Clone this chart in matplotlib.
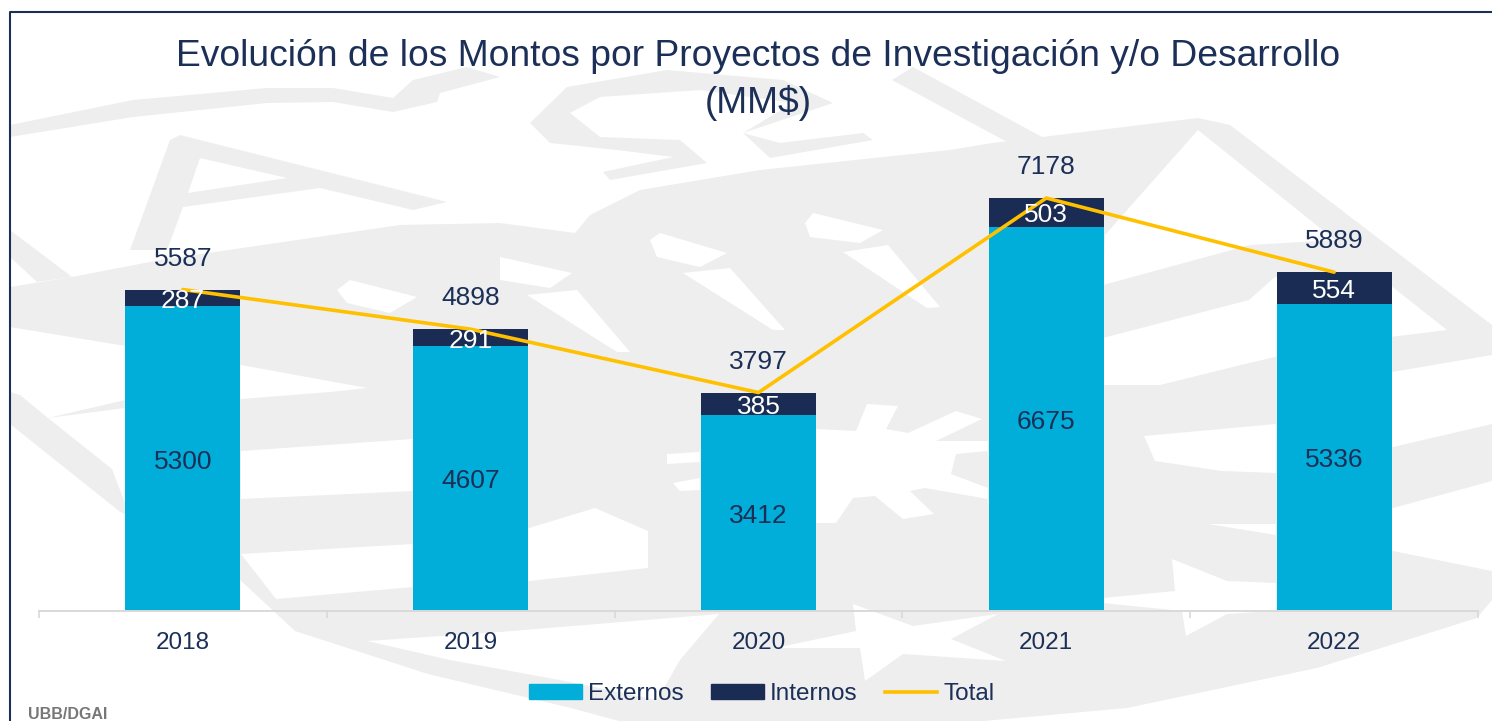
import matplotlib
matplotlib.use("Agg")
import matplotlib.pyplot as plt
from matplotlib.patches import Polygon, Patch
from matplotlib.lines import Line2D

plt.rcParams['font.family'] = ['Liberation Sans', 'DejaVu Sans']

years = ["2018", "2019", "2020", "2021", "2022"]
externos = [5300, 4607, 3412, 6675, 5336]
internos = [287, 291, 385, 503, 554]
total = [5587, 4898, 3797, 7178, 5889]

NAVY = "#1b2f57"
CYAN = "#00aed9"
DARK = "#1a2c54"
GOLD = "#ffc000"
LOGO = "#eeeeee"
W, H = 1492, 721

# faint shield logo behind the chart, in image pixels
logo_gray = [
    # top left band
    [(10, 125), (133, 100), (267, 88), (333, 88), (393, 98), (413, 80), (467, 67), (500, 77), (440, 93), (437, 102), (393, 112), (333, 102), (267, 103), (133, 117), (10, 137)],
    # letter
    [(170, 140), (180, 135), (447, 202), (413, 210), (320, 188), (183, 207), (167, 250), (130, 250)],
    # arm on the left
    [(10, 230), (72, 277), (37, 282), (10, 257)],
    # curl under the title
    [(530, 123), (567, 87), (667, 70), (783, 80), (833, 103), (743, 133), (793, 103), (700, 90), (600, 97), (570, 113), (600, 137), (680, 140), (707, 163), (610, 180), (603, 172), (673, 157), (617, 150), (550, 143)],
    [(743, 133), (770, 158), (873, 140), (863, 133), (780, 143)],
    [(913, 67), (1042, 137), (1009, 143), (892, 80)],
    # main body
    [(10, 287), (72, 277), (160, 260), (400, 225), (500, 223), (575, 233), (590, 215), (640, 190), (760, 170), (950, 150), (992, 143), (1042, 137),
     (1198, 118), (1230, 125), (1492, 325), (1492, 600), (1477, 618), (1317, 668), (1127, 708), (984, 721), (619, 721), (571, 708), (428, 674),
     (295, 631), (238, 578), (119, 511), (10, 424)],
]
logo_white = [
    [(200, 158), (188, 193), (287, 178)],
    # under the arm
    [(10, 327), (241, 365), (367, 388), (330, 392), (241, 399), (125, 400), (48, 418), (20, 395), (10, 392)],
    [(48, 418), (125, 408), (125, 503), (112, 469)],
    # drops and wedges
    [(337, 290), (350, 280), (417, 297), (390, 313), (347, 303)],
    [(500, 257), (572, 273), (550, 288), (500, 280)],
    [(527, 295), (577, 290), (630, 352), (617, 352)],
    [(650, 240), (660, 233), (727, 253), (700, 267), (657, 257)],
    [(683, 273), (730, 268), (785, 330), (773, 330)],
    [(805, 223), (813, 213), (883, 230), (860, 243), (810, 237)],
    [(843, 252), (888, 245), (940, 307), (927, 308)],
    # stripes
    [(241, 451), (413, 439), (413, 491), (241, 499)],
    [(241, 554), (413, 544), (529, 528), (595, 508), (648, 531), (648, 568), (529, 581), (413, 587), (276, 599)],
    [(667, 454), (700, 452), (700, 462), (667, 464)],
    [(673, 483), (700, 478), (700, 490), (680, 491)],
    [(367, 641), (500, 632), (719, 614), (680, 660), (657, 700), (560, 680), (450, 660)],
    # inside the right triangle
    [(1198, 130), (1335, 240), (1250, 245), (1103, 285), (1105, 235)],
    [(1103, 338), (1249, 300), (1275, 277), (1390, 285), (1447, 330), (1390, 337), (1275, 357), (1249, 363), (1160, 385), (1103, 385)],
    [(1144, 436), (1276, 424), (1276, 473), (1222, 471), (1155, 461)],
    [(1392, 372), (1492, 355), (1492, 424), (1393, 447), (1350, 440), (1350, 385)],
    [(1393, 508), (1492, 481), (1492, 571), (1393, 551), (1330, 520)],
    [(1208, 524), (1276, 524), (1276, 535)],
    # stars
    [(816, 429), (856, 431), (867, 404), (898, 406), (886, 429), (908, 433), (956, 411), (982, 419), (936, 441), (988, 441), (988, 451), (956, 454), (951, 474), (988, 488), (988, 499), (925, 488), (910, 491), (934, 514), (903, 519), (875, 496), (853, 498), (836, 523), (816, 523)],
    [(853, 604), (913, 626), (998, 614), (951, 639), (1006, 661), (903, 654), (865, 681), (860, 648), (775, 648), (856, 631)],
    [(1172, 559), (1227, 581), (1276, 583), (1276, 611), (1227, 614), (1186, 636), (1182, 611), (1103, 603), (1103, 598), (1175, 591)],
]

fig = plt.figure(figsize=(W / 100, H / 100), dpi=100)

for shapes, col, z in [(logo_gray, LOGO, -6), (logo_white, "white", -5)]:
    for shape in shapes:
        pts = [(x / W, 1 - y / H) for x, y in shape]
        fig.add_artist(Polygon(pts, closed=True, transform=fig.transFigure,
                               facecolor=col, edgecolor="none", zorder=z))

# frame on left and top of the slide
fig.add_artist(Line2D([10 / W, 10 / W, 1], [0, 1 - 12 / H, 1 - 12 / H],
                      color=NAVY, lw=1.5, transform=fig.transFigure))

ax = fig.add_axes([39 / W, 1 - 611 / H, (1478 - 39) / W, (611 - 150) / H])
ax.patch.set_alpha(0)

x = list(range(len(years)))
ax.bar(x, externos, width=0.4, color=CYAN, zorder=2)
ax.bar(x, internos, width=0.4, bottom=externos, color=DARK, zorder=2)
ax.plot(x, total, color=GOLD, lw=2.6, zorder=3, solid_capstyle="round")

for i in x:
    ax.annotate(str(externos[i]), (i, externos[i] / 2), xytext=(0, -3), textcoords="offset pixels",
                ha="center", va="center", fontsize=19, color=NAVY, zorder=4)
    ax.annotate(str(internos[i]), (i, externos[i] + internos[i] / 2), xytext=(0, -3), textcoords="offset pixels",
                ha="center", va="center", fontsize=19, color="white", zorder=4)
    ax.annotate(str(total[i]), (i, total[i]), xytext=(0, 31), textcoords="offset pixels",
                ha="center", va="center", fontsize=19, color=NAVY, zorder=4)

ax.set_xlim(-0.5, 4.5)
ax.set_ylim(0, 461 / (413 / 7178))
ax.set_yticks([])
for s in ["top", "left", "right"]:
    ax.spines[s].set_visible(False)
ax.spines["bottom"].set_color("#d9d9d9")
ax.spines["bottom"].set_linewidth(1.4)

ax.set_xticks(x)
ax.set_xticklabels(years, fontsize=17.5, color=NAVY)
ax.tick_params(axis="x", length=0, pad=15)
ax.set_xticks([i - 0.5 for i in range(len(years) + 1)], minor=True)
ax.tick_params(axis="x", which="minor", length=5, width=1.2, color="#d9d9d9")

fig.text(758 / W, 1 - 57 / H, "Evolución de los Montos por Proyectos de Investigación y/o Desarrollo",
         ha="center", va="center", fontsize=26.8, color=NAVY)
fig.text(758 / W, 1 - 103 / H, "(MM$)", ha="center", va="center", fontsize=26.8, color=NAVY)

handles = [Patch(color=CYAN, label="Externos"), Patch(color=DARK, label="Internos"),
           Line2D([], [], color=GOLD, lw=2.6, label="Total")]
fig.legend(handles=handles, loc="center", bbox_to_anchor=(762 / W, 1 - 694 / H), ncols=3, frameon=False,
           fontsize=17.5, labelcolor=NAVY, handlelength=2.15, handletextpad=0.25,
           columnspacing=1.15, handleheight=0.6)

fig.text(28 / W, 1 - 719 / H, "UBB/DGAI", ha="left", va="baseline", fontsize=11.5,
         fontweight="bold", color="#777777")

fig.savefig("out.png", dpi=100)
